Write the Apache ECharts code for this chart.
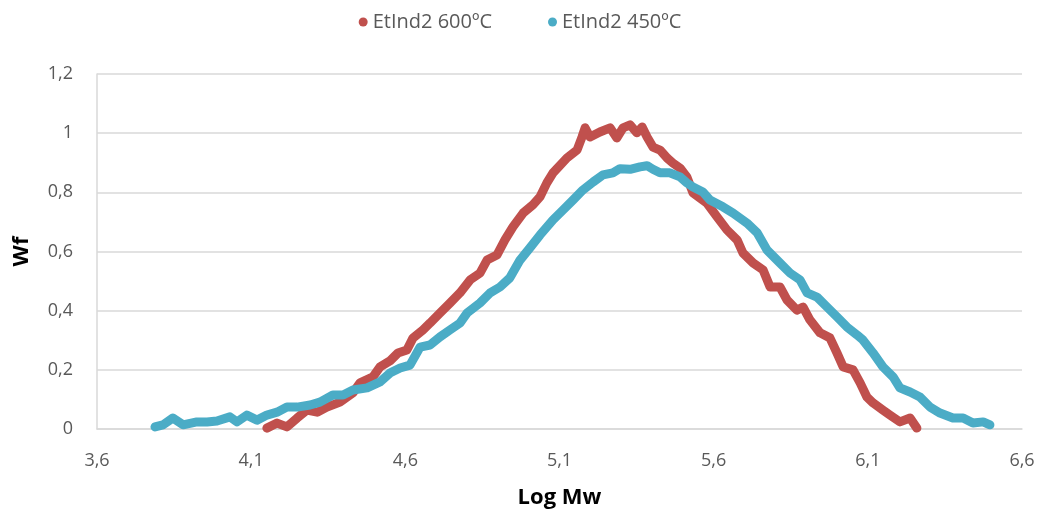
<!DOCTYPE html>
<html>
<head>
<meta charset="utf-8">
<title>Wf vs Log Mw</title>
<script src="https://cdn.jsdelivr.net/npm/echarts@6/dist/echarts.min.js"></script>
<style>
  html, body { margin: 0; padding: 0; background: #fff; }
  #chart { width: 1040px; height: 510px; }
</style>
</head>
<body>
<div id="chart"></div>
<script>
// series names
const seriesNames = ['EtInd2 600ºC', 'EtInd2 450ºC'];

// x tick values (Log Mw)
const xTicks = [3.6, 4.1, 4.6, 5.1, 5.6, 6.1, 6.6];

// EtInd2 600ºC : [Log Mw, Wf]
const red600 = [
    [4.151, 0.003], [4.184, 0.020], [4.216, 0.007], [4.249, 0.037], [4.281, 0.064],
    [4.314, 0.057], [4.346, 0.074], [4.388, 0.091], [4.430, 0.122], [4.453, 0.156],
    [4.495, 0.176], [4.518, 0.210], [4.550, 0.230], [4.576, 0.257], [4.605, 0.267],
    [4.625, 0.308], [4.657, 0.335], [4.680, 0.358], [4.712, 0.392], [4.745, 0.426],
    [4.777, 0.460], [4.810, 0.504], [4.842, 0.527], [4.865, 0.571], [4.897, 0.588],
    [4.923, 0.639], [4.949, 0.683], [4.982, 0.730], [5.014, 0.758], [5.037, 0.785],
    [5.059, 0.832], [5.079, 0.866], [5.124, 0.916], [5.157, 0.943], [5.173, 0.987],
    [5.183, 1.018], [5.199, 0.987], [5.231, 1.004], [5.264, 1.018], [5.286, 0.984],
    [5.306, 1.018], [5.329, 1.028], [5.351, 1.001], [5.368, 1.021], [5.384, 0.987],
    [5.403, 0.953], [5.426, 0.943], [5.449, 0.916], [5.468, 0.899], [5.491, 0.882],
    [5.513, 0.852], [5.533, 0.798], [5.555, 0.781], [5.578, 0.764], [5.611, 0.717],
    [5.643, 0.673], [5.676, 0.639], [5.695, 0.595], [5.728, 0.561], [5.760, 0.538],
    [5.783, 0.480], [5.815, 0.480], [5.838, 0.436], [5.870, 0.402], [5.890, 0.412],
    [5.912, 0.369], [5.945, 0.325], [5.977, 0.308], [6.000, 0.257], [6.020, 0.210],
    [6.052, 0.200], [6.075, 0.156], [6.097, 0.108], [6.117, 0.088], [6.149, 0.064],
    [6.172, 0.047], [6.204, 0.024], [6.237, 0.037], [6.259, 0.003]
];

// EtInd2 450ºC : [Log Mw, Wf]
const blue450 = [
    [3.788, 0.007], [3.814, 0.014], [3.846, 0.037], [3.879, 0.014], [3.924, 0.024],
    [3.957, 0.024], [3.989, 0.027], [4.031, 0.041], [4.054, 0.024], [4.086, 0.047],
    [4.119, 0.030], [4.151, 0.047], [4.184, 0.057], [4.216, 0.074], [4.249, 0.074],
    [4.291, 0.081], [4.323, 0.091], [4.365, 0.115], [4.398, 0.115], [4.430, 0.132],
    [4.476, 0.139], [4.518, 0.159], [4.550, 0.189], [4.583, 0.206], [4.615, 0.216],
    [4.648, 0.277], [4.680, 0.284], [4.712, 0.311], [4.745, 0.335], [4.777, 0.358],
    [4.800, 0.392], [4.842, 0.426], [4.875, 0.460], [4.907, 0.480], [4.939, 0.511],
    [4.972, 0.571], [5.004, 0.612], [5.037, 0.656], [5.079, 0.707], [5.111, 0.740],
    [5.144, 0.774], [5.176, 0.808], [5.209, 0.835], [5.241, 0.859], [5.273, 0.866],
    [5.296, 0.880], [5.329, 0.878], [5.361, 0.886], [5.384, 0.890], [5.403, 0.878],
    [5.426, 0.866], [5.458, 0.866], [5.491, 0.852], [5.513, 0.832], [5.533, 0.818],
    [5.565, 0.801], [5.588, 0.774], [5.630, 0.751], [5.663, 0.730], [5.708, 0.696],
    [5.741, 0.663], [5.773, 0.605], [5.815, 0.561], [5.848, 0.527], [5.880, 0.504],
    [5.903, 0.460], [5.935, 0.446], [5.968, 0.412], [6.000, 0.379], [6.032, 0.345],
    [6.065, 0.318], [6.084, 0.301], [6.117, 0.257], [6.149, 0.210], [6.182, 0.176],
    [6.204, 0.139], [6.237, 0.125], [6.269, 0.108], [6.302, 0.074], [6.334, 0.054],
    [6.376, 0.037], [6.409, 0.037], [6.441, 0.020], [6.474, 0.024], [6.496, 0.014]
];

const colors = ['#C0504D', '#4BACC6'];
const textColor = '#595959';
const gridColor = '#D9D9D9';
const font = 'Open Sans';

function commaNum(v) {
    return String(Math.round(v * 10) / 10).replace('.', ',');
}

function makeSeries(name, data, color) {
    return {
        name: name,
        type: 'line',
        data: data,
        showSymbol: false,
        symbol: 'circle',
        color: color,
        lineStyle: { width: 9, color: color, cap: 'round', join: 'round' },
        emphasis: { disabled: true }
    };
}

const chart = echarts.init(document.getElementById('chart'), null, { renderer: 'canvas' });

const option = {
    animation: false,
    textStyle: { fontFamily: font },
    legend: {
        top: 7,
        left: 'center',
        itemGap: 56,
        itemWidth: 9,
        itemHeight: 9,
        icon: 'circle',
        textStyle: { color: textColor, fontSize: 20, fontFamily: font },
        data: seriesNames
    },
    grid: { left: 97, right: 18, top: 74, bottom: 81, outerBoundsMode: 'none' },
    xAxis: {
        type: 'value',
        min: 3.6,
        max: 6.6,
        name: 'Log Mw',
        nameLocation: 'middle',
        nameGap: 58,
        nameTextStyle: { color: '#000', fontSize: 22, fontWeight: 'bold', fontFamily: font },
        axisLine: { show: true, lineStyle: { color: gridColor, width: 1.5 } },
        axisTick: { show: false },
        splitLine: { show: false },
        axisLabel: {
            customValues: xTicks,
            color: textColor,
            fontSize: 18,
            margin: 23,
            formatter: commaNum
        }
    },
    yAxis: {
        type: 'value',
        min: 0,
        max: 1.2,
        interval: 0.2,
        name: 'Wf',
        nameLocation: 'middle',
        nameGap: 64,
        nameRotate: 90,
        nameTextStyle: { color: '#000', fontSize: 22, fontWeight: 'bold', fontFamily: font },
        axisLine: { show: true, lineStyle: { color: gridColor, width: 1.5 } },
        axisTick: { show: false },
        splitLine: { show: true, lineStyle: { color: gridColor, width: 1.5 } },
        axisLabel: {
            color: textColor,
            fontSize: 18,
            margin: 24,
            formatter: commaNum
        }
    },
    series: [
        makeSeries(seriesNames[0], red600, colors[0]),
        makeSeries(seriesNames[1], blue450, colors[1])
    ]
};

chart.setOption(option);

window.addEventListener('resize', () => chart.resize());
</script>
</body>
</html>
